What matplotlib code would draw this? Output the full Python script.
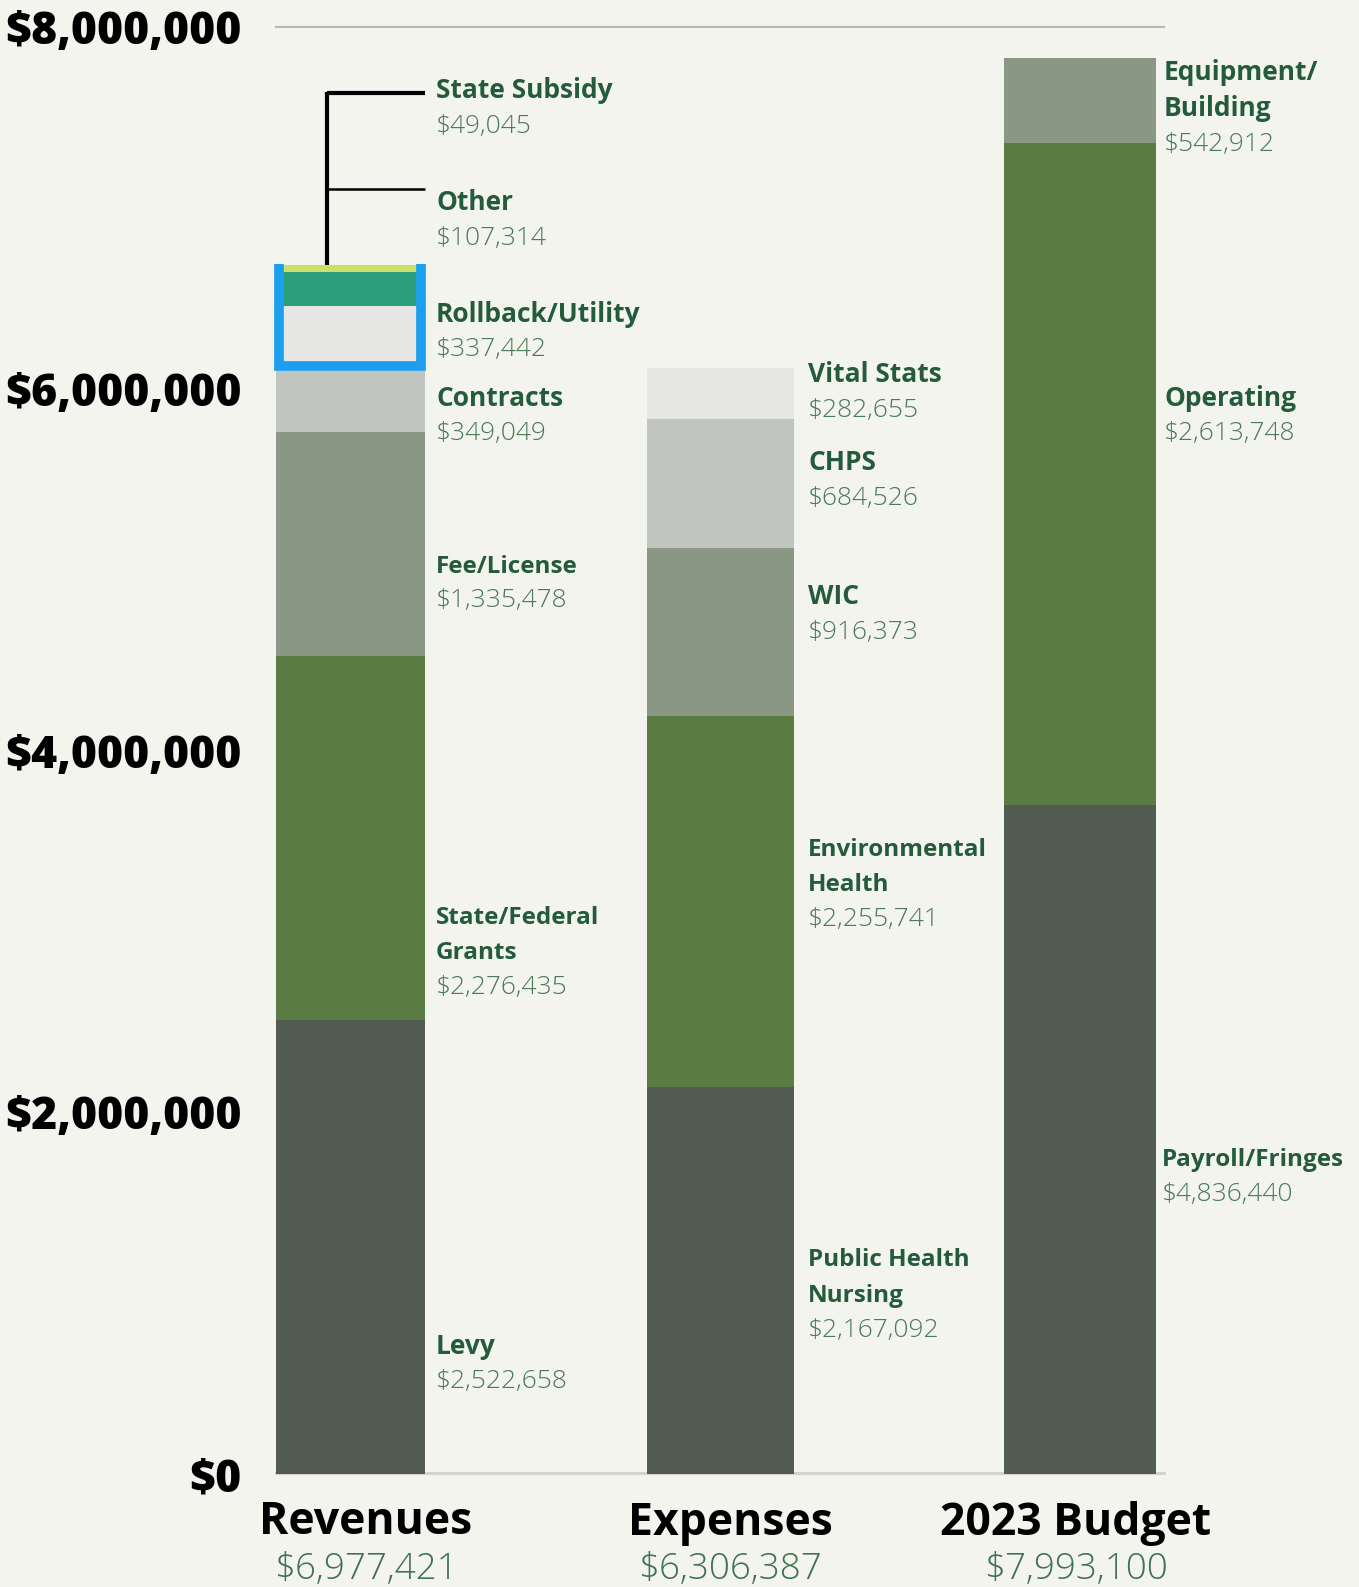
import matplotlib.pyplot as plt

W, H, DPI = 1359, 1587, 100

# --- data (bar heights, label text as printed) ---
rev_names = ['Levy', 'State/Federal\nGrants', 'Fee/License', 'Contracts',
             'Rollback/Utility', 'Other', 'State Subsidy']
rev_labels = ['$2,522,658', '$2,276,435', '$1,335,478', '$349,049',
              '$337,442', '$107,314', '$49,045']
rev_heights = [2.511e6, 2.012e6, 1.239e6, 0.338e6, 0.359e6, 0.188e6, 0.039e6]

exp_names = ['Public Health\nNursing', 'Environmental\nHealth', 'WIC', 'CHPS', 'Vital Stats']
exp_labels = ['$2,167,092', '$2,255,741', '$916,373', '$684,526', '$282,655']
exp_heights = [2.140e6, 2.052e6, 0.929e6, 0.713e6, 0.282e6]

bud_names = ['Payroll/Fringes', 'Operating', 'Equipment/\nBuilding']
bud_labels = ['$4,836,440', '$2,613,748', '$542,912']
bud_heights = [3.699e6, 3.661e6, 0.470e6]

groups = ['Revenues', 'Expenses', '2023 Budget']
group_totals = ['$6,977,421', '$6,306,387', '$7,993,100']

yticks = [0, 2e6, 4e6, 6e6, 8e6]
ytick_labels = ['$0', '$2,000,000', '$4,000,000', '$6,000,000', '$8,000,000']

# --- style ---
bg = '#f4f4ef'
dark, green, sage = '#525b50', '#5a7b42', '#8a9784'
light, pale, teal, lime = '#c1c5bf', '#e6e6e4', '#2a9f79', '#c9e06a'
rev_colors = [dark, green, sage, light, pale, teal, lime]
exp_colors = [dark, green, sage, light, pale]
bud_colors = [dark, green, sage]
name_col = '#245c3b'
val_col = '#4b7a58'
FONT = 'Open Sans'
# these names are set tighter in the original
tight = {'State/Federal', 'Fee/License', 'Environmental', 'Public Health', 'Payroll/Fringes'}

plt.rcParams['font.family'] = [FONT, 'DejaVu Sans']

fig = plt.figure(figsize=(W / DPI, H / DPI), dpi=DPI, facecolor=bg)
# x axis in pixel-like units so the layout is easy to line up
y0_px, y8_px = 1474, 27.3
ax = fig.add_axes([276 / W, 1 - y0_px / H, (1164 - 276) / W, (y0_px - y8_px) / H])
ax.set_facecolor(bg)
ax.set_xlim(276, 1164)
ax.set_ylim(0, 8e6)
for s in ax.spines.values():
    s.set_visible(False)
ax.set_xticks([])
ax.set_yticks(yticks)
ax.set_yticklabels(ytick_labels, fontsize=32, fontweight=800, color='black')
ax.tick_params(axis='y', length=0, pad=25)

px_per_usd = (y0_px - y8_px) / 8e6

# grid lines
ax.axhline(8e6, color='#b9b9b4', lw=1.5, clip_on=False, zorder=0)
ax.axhline(0 + 1.5 / px_per_usd, color='#d3d3ce', lw=2.2, clip_on=False, zorder=0)

bars = [(276, 149, rev_heights, rev_colors),
        (647, 147, exp_heights, exp_colors),
        (1004, 152, bud_heights, bud_colors)]
for left, width, heights, colors in bars:
    bottom = 0
    for h, c in zip(heights, colors):
        ax.bar(left, h, width=width, bottom=bottom, color=c, align='edge',
               linewidth=0, zorder=2)
        bottom += h

# blue highlight round the top three revenue pieces
top_rev = sum(rev_heights)
contracts_top = sum(rev_heights[:4])
half = 4.5 / px_per_usd
ax.plot([279, 279, 421, 421],
        [top_rev + 1 / px_per_usd, contracts_top + half, contracts_top + half, top_rev + 1 / px_per_usd],
        color='#1d9ff0', lw=7, solid_joinstyle='miter', solid_capstyle='butt',
        clip_on=False, zorder=3)

# leader lines for the two small slices
yl_top = (y0_px - 93) / px_per_usd
yl_mid = (y0_px - 189) / px_per_usd
ax.plot([327, 327], [top_rev, yl_top + 1.5 / px_per_usd], color='black', lw=3,
        solid_capstyle='butt', clip_on=False, zorder=3)
ax.plot([327, 425], [yl_top, yl_top], color='black', lw=3,
        solid_capstyle='butt', clip_on=False, zorder=3)
ax.plot([327, 425], [yl_mid, yl_mid], color='black', lw=1.8,
        solid_capstyle='butt', clip_on=False, zorder=3)

# --- segment labels: x and first-line cap centre in pixels ---
line_h = 35.3


def put_label(x, y, name, value):
    lines = name.split('\n')
    size = 17.5 if lines[0] in tight else 19
    for i, ln in enumerate(lines):
        fig.text(x / W, 1 - (y + i * line_h + 9.5) / H, ln, fontsize=size,
                 fontweight='bold', color=name_col, ha='left', va='baseline')
    yv = y + len(lines) * line_h
    fig.text(x / W, 1 - (yv + 9) / H, value, fontsize=19, fontweight=300,
             color=val_col, ha='left', va='baseline')


rev_label_y = [1344, 914, 563, 396, 312, 201, 89]
exp_label_y = [1257, 846, 595, 461, 373]
bud_label_y = [1157, 396, 71]
for n, v, y in zip(rev_names, rev_labels, rev_label_y):
    put_label(436, y, n, v)
for n, v, y in zip(exp_names, exp_labels, exp_label_y):
    put_label(808, y, n, v)
for n, v, y in zip(bud_names, bud_labels, bud_label_y):
    put_label(1164 if y < 1000 else 1162, y, n, v)

# --- group titles underneath ---
title_x = [366, 730, 1076]
for x, g, t in zip(title_x, groups, group_totals):
    fig.text(x / W, 1 - 1523 / H, g, fontsize=32, fontweight='bold',
             color='black', ha='center', va='center')
    fig.text(x / W, 1 - 1570 / H, t, fontsize=26.5, fontweight=300,
             color='#3f7250', ha='center', va='center')

fig.savefig('out.png', dpi=DPI, facecolor=bg)
